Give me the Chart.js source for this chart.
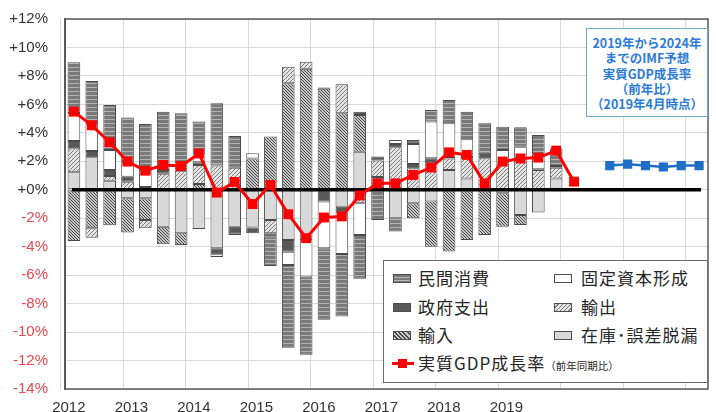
<!DOCTYPE html>
<html><head><meta charset="utf-8">
<script src="https://cdn.jsdelivr.net/npm/chart.js@4.4.1/dist/chart.umd.min.js"></script>
<style>
html,body{margin:0;padding:0;background:#fff;}
#wrap{position:relative;width:716px;height:412px;overflow:hidden;background:#fff;}
#c{position:absolute;left:0;top:0;}
#legend{position:absolute;left:383px;top:260px;width:325px;height:123px;background:#fff;border:1.5px solid #6b6b6b;box-sizing:border-box;font-family:"Noto Sans CJK JP",sans-serif;color:#262626;}
.li{position:absolute;font-size:17px;line-height:20px;letter-spacing:1px;white-space:nowrap;}
.li small{font-size:10.5px;letter-spacing:0;}
.sw{position:absolute;width:18px;height:9px;border:1px solid #4d4d4d;box-sizing:border-box;}
.red{position:absolute;width:22px;height:3px;background:#ff0000;}
.red:after{content:"";position:absolute;left:6px;top:-3px;width:9px;height:9px;background:#ff0000;}
#note{position:absolute;left:586px;top:28px;width:122px;height:89px;background:#fff;border:1.5px solid #6fa8dc;box-sizing:border-box;font-family:"Noto Sans CJK JP",sans-serif;font-weight:bold;color:#2e7bd4;font-size:12.5px;line-height:15.3px;text-align:center;padding-top:6px;}
</style></head>
<body>
<div id="wrap">
<canvas id="c" width="716" height="412"></canvas>
<div id="note">2019年から2024年<br>までのIMF予想<br>実質GDP成長率<br>（前年比）<br>（2019年4月時点）</div>
<div id="legend">
  <div class="sw" style="left:9px;top:13px;background:repeating-linear-gradient(to bottom,#7a7a7a 0 2px,#b8b8b8 2px 3px);"></div>
  <div class="li" style="left:34px;top:7px;">民間消費</div>
  <div class="sw" style="left:170px;top:13px;background:#fff;"></div>
  <div class="li" style="left:197px;top:7px;">固定資本形成</div>
  <div class="sw" style="left:9px;top:42px;background:#595959;"></div>
  <div class="li" style="left:34px;top:36px;">政府支出</div>
  <div class="sw" style="left:170px;top:42px;background:repeating-linear-gradient(135deg,#e6e6e6 0 2px,#7a7a7a 2px 3px);"></div>
  <div class="li" style="left:197px;top:36px;">輸出</div>
  <div class="sw" style="left:9px;top:70px;background:repeating-linear-gradient(45deg,#c8c8c8 0 1.5px,#4a4a4a 1.5px 3px);"></div>
  <div class="li" style="left:34px;top:64px;">輸入</div>
  <div class="sw" style="left:170px;top:70px;background:#d9d9d9;"></div>
  <div class="li" style="left:197px;top:64px;">在庫･誤差脱漏</div>
  <div class="red" style="left:8px;top:101px;"></div>
  <div class="li" style="left:34px;top:92px;">実質GDP成長率<small>（前年同期比）</small></div>
</div>
</div>
<script>
// ---- categories ----
const quarters = ['2012Q1','2012Q2','2012Q3','2012Q4','2013Q1','2013Q2','2013Q3','2013Q4',
  '2014Q1','2014Q2','2014Q3','2014Q4','2015Q1','2015Q2','2015Q3','2015Q4',
  '2016Q1','2016Q2','2016Q3','2016Q4','2017Q1','2017Q2','2017Q3','2017Q4',
  '2018Q1','2018Q2','2018Q3','2018Q4','2019Q1'];
const forecastYears = ['2019','2020','2021','2022','2023','2024'];
const categories = [...quarters, 'gap', ...forecastYears];

// ---- contributions (percentage points) ----
const inventory    = [1.23, 2.28, 0.64, -0.6, -0.6, -2.59, -3.06, -2.75, -4.11, -2.59, -2.65, -2.12, -3.53, -3.35, null, -1.19, 2.68, null, -2.0, -0.95, -0.83, 1.39, 0.8, null, -0.25, -1.77, -1.6, 0.8];
const imports      = [-3.6, -2.71, -2.5, -2.4, -1.52, -1.24, -0.82, 0.4, null, null, 2.2, 3.74, 7.48, 8.5, 7.1, 5.37, 2.58, 0.9, null, -1.05, -3.17, -4.33, -3.53, -3.18, -2.34, -0.7, null, null];
const exportsC     = [1.68, -0.66, 0.33, 0.57, -0.59, 1.13, 1.34, 1.34, 1.7, 1.55, null, -0.94, 1.17, 0.5, 0.08, 2.04, -0.95, 1.15, 2.98, 1.51, 1.85, 0.8, 1.5, 2.21, 1.85, 2.2, 1.39, 0.75];
const government   = [0.52, 0.45, 0.42, 0.35, 0.2, 0.26, 0.1, 0.19, -0.42, -0.47, -0.4, -0.2, -0.82, -0.2, -0.83, -0.39, 0.23, 0.28, 0.24, 0.3, 0.36, 0.15, 0.1, 0.4, null, null, 0.05, 0.12];
const fixedCapital = [1.97, 1.87, 1.41, 0.94, 1.0, null, null, 0.67, -0.2, -0.12, 0.36, null, -0.93, -2.55, -3.28, -2.93, -2.23, null, 0.28, 1.41, 2.58, 2.33, 1.15, null, 0.95, 0.83, 1.05, null];
const consumption  = [3.56, 3.05, 3.16, 3.21, 3.42, 4.1, 3.93, 2.19, 4.38, 2.23, null, -2.1, -5.82, -5.5, -5.03, -4.39, -3.07, -2.12, -0.94, 0.28, 0.82, 1.64, 1.94, 2.06, 1.63, 1.36, 1.35, 1.23];
const gdpGrowth    = [5.49, 4.53, 3.34, 1.98, 1.34, 1.74, 1.67, 2.55, -0.2, 0.55, -1.0, 0.34, -1.72, -3.4, -1.95, -1.87, -0.4, 0.45, 0.45, 1.04, 1.56, 2.63, 2.45, 0.45, 1.98, 2.2, 2.26, 2.75, 0.57];
const imfForecast  = [1.7, 1.8, 1.7, 1.6, 1.7, 1.7];

// ---- tick labels ----
const yTickValues = [-14,-12,-10,-8,-6,-4,-2,0,2,4,6,8,10,12];
const yTickLabels = ['-14%','-12%','-10%','-8%','-6%','-4%','-2%','+0%','+2%','+4%','+6%','+8%','+10%','+12%'];
const yearTicks  = [2012,2013,2014,2015,2016,2017,2018,2019,2020,2021,2022];
const yearLabels = ['2012','2013','2014','2015','2016','2017','2018','2019'];

// ---- patterns ----
function tile(w,h,draw){const c=document.createElement('canvas');c.width=w;c.height=h;const x=c.getContext('2d');draw(x);return x.createPattern(c,'repeat');}
const patLined = tile(4,4,x=>{x.fillStyle='#7a7a7a';x.fillRect(0,0,4,4);x.fillStyle='#b3b3b3';x.fillRect(0,3,4,1);});
function hatch(bg,fg,s,dir,lw){return tile(s,s,x=>{x.fillStyle=bg;x.fillRect(0,0,s,s);x.strokeStyle=fg;x.lineWidth=lw;x.beginPath();
  if(dir>0){x.moveTo(-1,s+1);x.lineTo(s+1,-1);x.moveTo(-1,1);x.lineTo(1,-1);x.moveTo(s-1,s+1);x.lineTo(s+1,s-1);}
  else{x.moveTo(-1,-1);x.lineTo(s+1,s+1);x.moveTo(s-1,-1);x.lineTo(s+1,1);x.moveTo(-1,s-1);x.lineTo(1,s+1);}
  x.stroke();});}
const patExp = hatch('#e4e4e4','#7d7d7d',4,1,1);
const patImp = hatch('#c6c6c6','#474747',3,-1,1);

const barBase = {type:'bar', stack:'s', order:2, borderColor:'#4a4a4a', borderWidth:1, borderSkipped:false, barPercentage:0.71, categoryPercentage:1};

const zeroLinePlugin = {
  id:'zeroLine',
  beforeDatasetsDraw(chart){
    chart.$zeroDone=false;
    const a=chart.chartArea, ctx=chart.ctx;
    ctx.save();ctx.strokeStyle='#5a5a5a';ctx.lineWidth=1.5;ctx.strokeRect(a.left,a.top,a.right-a.left,a.bottom-a.top);ctx.restore();
  },
  beforeDatasetDraw(chart,args){
    if(chart.$zeroDone || args.meta.type!=='line') return;
    chart.$zeroDone=true;
    const xs=chart.scales.x, ys=chart.scales.y, ctx=chart.ctx;
    const y=ys.getPixelForValue(0);
    ctx.save();ctx.strokeStyle='#000';ctx.lineWidth=3.5;ctx.beginPath();
    ctx.moveTo(xs.getPixelForValue(0)-2,y);ctx.lineTo(xs.getPixelForValue(categories.length-1)+2,y);ctx.stroke();ctx.restore();
  }
};

new Chart(document.getElementById('c'), {
  data:{
    labels: categories,
    datasets:[
      {...barBase, label:'在庫・誤差脱漏', data:inventory, backgroundColor:'#d9d9d9'},
      {...barBase, label:'輸入', data:imports, backgroundColor:patImp},
      {...barBase, label:'輸出', data:exportsC, backgroundColor:patExp},
      {...barBase, label:'政府支出', data:government, backgroundColor:'#595959'},
      {...barBase, label:'固定資本形成', data:fixedCapital, backgroundColor:'#ffffff'},
      {...barBase, label:'民間消費', data:consumption, backgroundColor:patLined},
      {type:'line', label:'実質GDP成長率', data:gdpGrowth, stack:'gdp', order:1, borderColor:'#ff0000', backgroundColor:'#ff0000', borderWidth:3, pointStyle:'rect', pointRadius:7, pointBorderWidth:0, tension:0},
      {type:'line', label:'IMF予想', data:forecastYears.map((yr,i)=>({x:yr,y:imfForecast[i]})), stack:'imf', order:1, borderColor:'#1f6ec6', backgroundColor:'#1f6ec6', borderWidth:2.5, pointStyle:'rect', pointRadius:6.5, pointBorderWidth:0, tension:0}
    ]
  },
  options:{
    responsive:false, animation:false, devicePixelRatio:1,
    layout:{padding:{left:0,right:8,top:19,bottom:0}},
    plugins:{legend:{display:false}, tooltip:{enabled:false}},
    scales:{
      x:{type:'category', display:false, stacked:true, offset:true},
      xl:{type:'linear', position:'bottom', min:2012.067, max:2022.355,
        afterBuildTicks:s=>{s.ticks=yearTicks.map(v=>({value:v}));},
        afterFit:s=>{s.height=23; s.paddingLeft=0; s.paddingRight=0;},
        ticks:{labelOffset:8, padding:10, autoSkip:false, maxRotation:0, color:'#333', font:{family:'Liberation Sans', size:15},
          callback:(v)=>{const i=yearTicks.indexOf(v);return i>=0 && i<yearLabels.length ? yearLabels[i] : '';}},
        grid:{color:'#d9d9d9', drawTicks:false},
        border:{display:false}
      },
      y:{type:'linear', min:-14, max:12, stacked:true,
        afterBuildTicks:s=>{s.ticks=yTickValues.map(v=>({value:v}));},
        afterFit:s=>{s.width=65; s.paddingTop=0; s.paddingBottom=0;},
        ticks:{padding:17, color:c=>c.tick.value<0?'#e8474f':'#333', font:{family:'Liberation Sans', size:15},
          callback:(v)=>yTickLabels[yTickValues.indexOf(v)]},
        grid:{color:'#d9d9d9', drawTicks:false},
        border:{display:true, color:'#5a5a5a', width:2}
      }
    }
  },
  plugins:[zeroLinePlugin]
});
</script>
</body></html>
